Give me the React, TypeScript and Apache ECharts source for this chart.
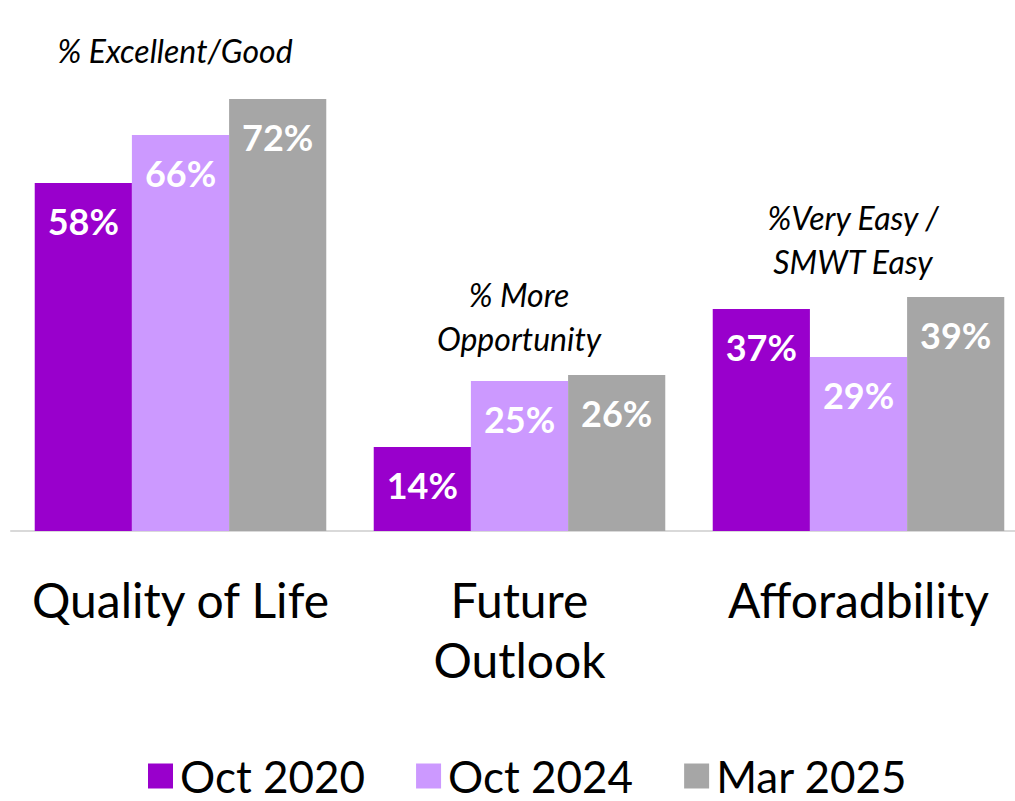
import React, { useEffect, useRef } from "react";
import * as echarts from "echarts";

const categories = ["Quality of Life", "Future\nOutlook", "Afforadbility"];
const seriesNames = ["Oct 2020", "Oct 2024", "Mar 2025"];
const oct2020 = [58, 14, 37];
const oct2024 = [66, 25, 29];
const mar2025 = [72, 26, 39];
const colors = ["#9900CC", "#CC99FF", "#A6A6A6"];
const notes = ["% Excellent/Good", "% More\nOpportunity", "%Very Easy /\nSMWT Easy"];

const FONT = "Lato, 'Open Sans', sans-serif";

export default function App() {
  const ref = useRef<HTMLDivElement>(null);
  useEffect(() => {
    document.body.style.margin = "0";
    document.body.style.overflow = "hidden";
    const chart = echarts.init(ref.current!, null, { renderer: "svg" });
    const data = [oct2020, oct2024, mar2025];
    chart.setOption({
      animation: false,
      textStyle: { fontFamily: FONT },
      grid: { left: 11, right: 2, top: 51, bottom: 270 },
      legend: {
        bottom: -2,
        left: 143,
        itemWidth: 25,
        itemHeight: 25,
        itemGap: 51,
        icon: "rect",
        textStyle: { fontSize: 44, color: "#000", fontFamily: FONT, padding: [0, 0, 0, 2] },
        data: seriesNames,
      },
      xAxis: {
        type: "category",
        data: categories,
        axisLine: { show: true, lineStyle: { color: "#D9D9D9", width: 2 } },
        axisTick: { show: false },
        axisLabel: {
          interval: 0,
          fontSize: 48,
          color: "#000",
          lineHeight: 60,
          margin: 38,
          fontFamily: FONT,
        },
      },
      yAxis: {
        type: "value",
        min: 0,
        max: 80,
        show: false,
        splitLine: { show: false },
      },
      series: data.map((d, i) => ({
        name: seriesNames[i],
        type: "bar",
        data: d,
        barGap: "0%",
        barCategoryGap: "14%",
        itemStyle: { color: colors[i] },
        label: {
          show: true,
          position: "insideTop",
          distance: 20,
          formatter: "{c}%",
          color: "#fff",
          fontSize: 36,
          fontWeight: "bold",
          fontFamily: FONT,
        },
      })),
      graphic: [
        { x: 175, y: 50, text: notes[0] },
        { x: 519, y: 316, text: notes[1] },
        { x: 853, y: 239, text: notes[2] },
      ].map((n) => ({
        type: "text",
        x: n.x,
        y: n.y,
        style: {
          text: n.text,
          fontSize: 32,
          fontStyle: "italic",
          fontFamily: FONT,
          fill: "#000",
          align: "center",
          verticalAlign: "middle",
          lineHeight: 44,
        },
      })),
    });
    return () => chart.dispose();
  }, []);
  return <div ref={ref} style={{ width: 1030, height: 801 }} />;
}
